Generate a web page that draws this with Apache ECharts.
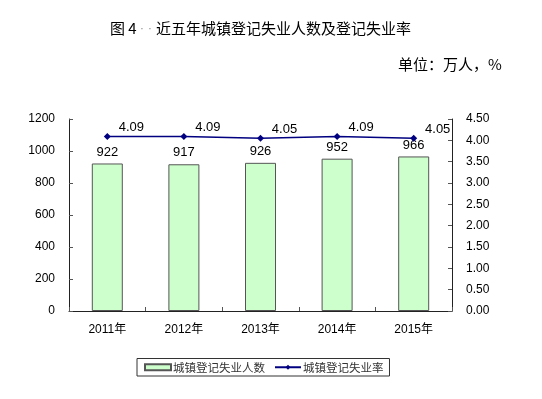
<!DOCTYPE html>
<html><head><meta charset="utf-8">
<script src="https://cdn.jsdelivr.net/npm/echarts@6/dist/echarts.min.js"></script>
<style>html,body{margin:0;padding:0;background:#fff}#c{width:542px;height:399px}</style>
</head><body><div id="c"></div>
<script>
const categories = ['2011年','2012年','2013年','2014年','2015年'];
const unemployedCount = [922, 917, 926, 952, 966];
const unemploymentRate = [4.09, 4.09, 4.05, 4.09, 4.05];
const leftTicks = {min: 0, max: 1200, interval: 200};
const rightTicks = {min: 0, max: 4.5, interval: 0.5};

const chart = echarts.init(document.getElementById('c'), null, {renderer: 'canvas'});
const font = 'Arial, "Liberation Sans", "Noto Sans CJK SC", sans-serif';
chart.setOption({
  animation: false,
  backgroundColor: '#fff',
  title: [
    {text: '图 4{d|· ·}近五年城镇登记失业人数及登记失业率', left: 105, top: 16,
     textStyle: {fontSize: 15, fontWeight: 'normal', color: '#000', fontFamily: '"Noto Sans CJK SC", sans-serif',
       rich: {d: {color: '#999', fontSize: 13, fontFamily: 'Arial, sans-serif', padding: [0, 4, 0, 3]}}}},
    {text: '单位：万人，%', left: 393, top: 52,
     textStyle: {fontSize: 15, fontWeight: 'normal', color: '#000', fontFamily: '"Noto Sans CJK SC", sans-serif'}}
  ],
  grid: {left: 69, right: 90, top: 119, bottom: 88, containLabel: false},
  legend: {
    bottom: 23, left: 137, itemGap: 9,
    borderColor: '#333', borderWidth: 1, padding: [3, 6, 3, 7],
    itemWidth: 26, itemHeight: 6,
    textStyle: {fontSize: 11.5, color: '#333', fontFamily: '"Noto Sans CJK SC", sans-serif', padding: [0, 0, 0, -3]},
    data: [
      {name: '城镇登记失业人数', icon: 'rect'},
      {name: '城镇登记失业率'}
    ]
  },
  xAxis: {
    type: 'category', data: categories,
    axisLine: {lineStyle: {color: '#222', width: 1}},
    axisTick: {show: true, inside: true, length: 4, alignWithLabel: false, lineStyle: {color: '#555'}},
    axisLabel: {fontSize: 12, color: '#000', margin: 13, fontFamily: font}
  },
  yAxis: [
    {type: 'value', min: leftTicks.min, max: leftTicks.max, interval: leftTicks.interval,
     splitLine: {show: false},
     axisLine: {show: true, lineStyle: {color: '#222'}},
     axisTick: {show: true, inside: true, length: 4, lineStyle: {color: '#555'}},
     axisLabel: {fontSize: 12, color: '#000', margin: 14, fontFamily: font, formatter: v => String(v)}},
    {type: 'value', min: rightTicks.min, max: rightTicks.max, interval: rightTicks.interval,
     splitLine: {show: false},
     axisLine: {show: true, lineStyle: {color: '#222'}},
     axisTick: {show: true, inside: true, length: 4, lineStyle: {color: '#555'}},
     axisLabel: {fontSize: 12, color: '#000', margin: 14, fontFamily: font,
       formatter: v => v.toFixed(2)}}
  ],
  series: [
    {name: '城镇登记失业人数', type: 'bar', data: unemployedCount, barWidth: 31,
     itemStyle: {color: '#CCFFCC', borderColor: '#555', borderWidth: 1},
     label: {show: true, position: 'top', distance: 5, fontSize: 13, color: '#000', fontFamily: font}},
    {name: '城镇登记失业率', type: 'line', yAxisIndex: 1, data: unemploymentRate,
     symbol: 'diamond', symbolSize: 7,
     lineStyle: {color: '#000080', width: 1.5},
     itemStyle: {color: '#000080'},
     label: {show: true, position: 'top', offset: [24, 4], distance: 3, fontSize: 13, color: '#000', fontFamily: font,
       formatter: p => p.value.toFixed(2)}}
  ]
});
</script></body></html>
